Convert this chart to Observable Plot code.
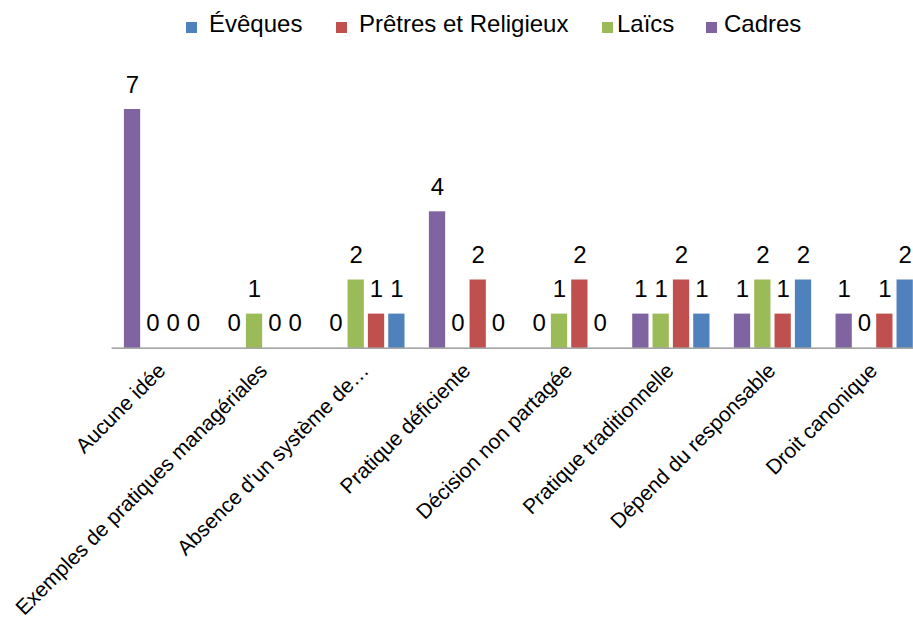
<!DOCTYPE html>
<html><head><meta charset="utf-8">
<script src="https://cdn.jsdelivr.net/npm/d3@7"></script>
<script src="https://cdn.jsdelivr.net/npm/@observablehq/plot@0.6"></script>
<style>
body{margin:0;background:#fff;font-family:"Liberation Sans",Arial,sans-serif;overflow:hidden}
#legend{position:relative;width:913px;height:50px}
.sw{position:absolute;width:11px;height:11px;top:21.5px}
.lt{position:absolute;top:12px;font-size:24px;line-height:24px;color:#000;white-space:nowrap}
</style></head><body>
<div id="legend"></div>
<div id="chart"></div>
<script>
// ---- data ----
const categories = ["Aucune idée","Exemples de pratiques managériales","Absence d'un système de…","Pratique déficiente","Décision non partagée","Pratique traditionnelle","Dépend du responsable","Droit canonique"];
const series = ["Cadres","Laïcs","Prêtres et Religieux","Évêques"];
const cadres  = [7,0,0,4,0,1,1,1];
const laics   = [0,1,2,0,1,1,2,0];
const pretres = [0,0,1,2,2,2,1,1];
const eveques = [0,0,1,0,0,1,2,2];
const legendOrder = ["Évêques","Prêtres et Religieux","Laïcs","Cadres"];

// ---- styles / layout ----
const colors = ["#8064A2","#9BBB59","#C0504D","#4F81BD"];
const legendLayout = {"Évêques":[186,209],"Prêtres et Religieux":[336,359],"Laïcs":[602,617],"Cadres":[706,724]};

const valuesBySeries = [cadres, laics, pretres, eveques];
const data = categories.flatMap((c, i) => series.map((s, j) => ({category: c, series: s, value: valuesBySeries[j][i]})));

const legend = document.getElementById("legend");
for (const name of legendOrder) {
  const [sx, tx] = legendLayout[name];
  const sw = document.createElement("div");
  sw.className = "sw"; sw.style.left = sx + "px"; sw.style.background = colors[series.indexOf(name)];
  const t = document.createElement("div");
  t.className = "lt"; t.style.left = tx + "px"; t.textContent = name;
  legend.append(sw, t);
}

const chart = Plot.plot({
  width: 913, height: 569,
  marginLeft: 111.7, marginRight: -12, marginTop: 59, marginBottom: 271.3,
  style: {fontFamily: "'Liberation Sans', Arial, sans-serif", overflow: "visible", background: "#fff"},
  fx: {domain: categories, paddingInner: 0.24, paddingOuter: 0.12, round: false, label: null},
  x: {domain: series, paddingInner: 0.2, paddingOuter: 0, round: false, axis: null},
  y: {domain: [0, 7], axis: null},
  color: {domain: series, range: colors},
  marks: [
    Plot.barY(data, {fx: "category", x: "series", y: "value", fill: "series"}),
    Plot.ruleY([0], {stroke: "#8a8a8a", strokeWidth: 1.3, insetLeft: -12.3, insetRight: -12.3}),
    Plot.text(data, {fx: "category", x: "series", y: "value", text: d => String(d.value), dy: -17, lineAnchor: "bottom", fontSize: 24, fill: "#000"}),
    Plot.axisFx({anchor: "bottom", tickSize: 0, tickPadding: 19, dx: -1, tickRotate: -45, fontSize: 21, label: null, fill: "#000"})
  ]
});
document.getElementById("chart").append(chart);
</script>
</body></html>
